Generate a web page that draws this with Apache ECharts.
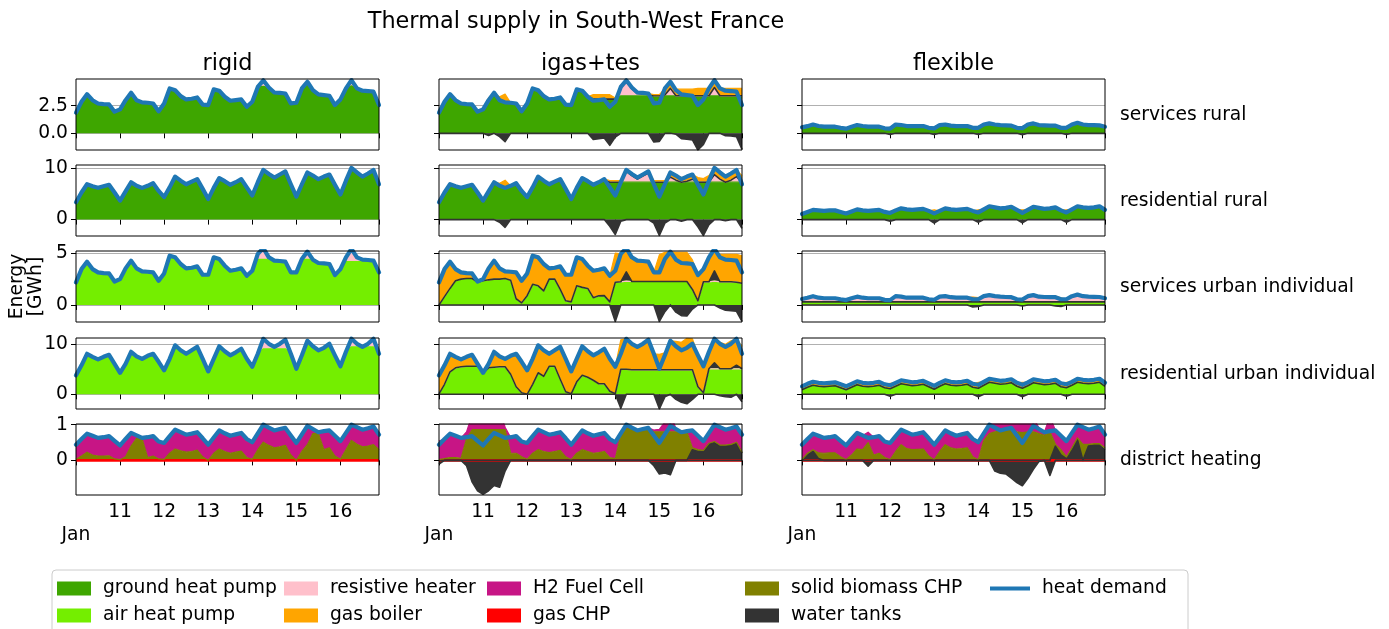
<!DOCTYPE html>
<html><head><meta charset="utf-8">
<script src="https://cdn.jsdelivr.net/npm/echarts@6/dist/echarts.min.js"></script>
<style>html,body{margin:0;padding:0;background:#fff}#c{width:1389px;height:629px}</style>
</head><body><div id="c"></div>
<script>
// ---------- categories / ticks ----------
const times = [
'Jan 10 00:00','Jan 10 03:00','Jan 10 06:00','Jan 10 09:00','Jan 10 12:00','Jan 10 15:00','Jan 10 18:00','Jan 10 21:00',
'Jan 11 00:00','Jan 11 03:00','Jan 11 06:00','Jan 11 09:00','Jan 11 12:00','Jan 11 15:00','Jan 11 18:00','Jan 11 21:00',
'Jan 12 00:00','Jan 12 03:00','Jan 12 06:00','Jan 12 09:00','Jan 12 12:00','Jan 12 15:00','Jan 12 18:00','Jan 12 21:00',
'Jan 13 00:00','Jan 13 03:00','Jan 13 06:00','Jan 13 09:00','Jan 13 12:00','Jan 13 15:00','Jan 13 18:00','Jan 13 21:00',
'Jan 14 00:00','Jan 14 03:00','Jan 14 06:00','Jan 14 09:00','Jan 14 12:00','Jan 14 15:00','Jan 14 18:00','Jan 14 21:00',
'Jan 15 00:00','Jan 15 03:00','Jan 15 06:00','Jan 15 09:00','Jan 15 12:00','Jan 15 15:00','Jan 15 18:00','Jan 15 21:00',
'Jan 16 00:00','Jan 16 03:00','Jan 16 06:00','Jan 16 09:00','Jan 16 12:00','Jan 16 15:00','Jan 16 18:00','Jan 16 21:00'];
const dayLabels = ['', '11', '12', '13', '14', '15', '16'];
const monthLabel = 'Jan';
const scenarios = ['rigid', 'igas+tes', 'flexible'];
const regions = ['services rural', 'residential rural', 'services urban individual', 'residential urban individual', 'district heating'];
const rowTicks = [[0, 2.5], [0, 10], [0, 5], [0, 10], [0, 1]];
const rowTickLabels = [['0.0', '2.5'], ['0', '10'], ['0', '5'], ['0', '10'], ['0', '1']];

const zero56 = [
0,0,0,0,0,0,0,0, 0,0,0,0,0,0,0,0, 0,0,0,0,0,0,0,0, 0,0,0,0,0,0,0,0,
0,0,0,0,0,0,0,0, 0,0,0,0,0,0,0,0, 0,0,0,0,0,0,0,0];

// ---------- heat demand ----------
const demSR = [
1.87,2.86,3.55,3.00,2.70,2.65,2.62,1.96, 2.17,3.00,3.67,3.00,2.80,2.77,2.70,2.00,
2.70,4.07,3.90,3.37,3.07,3.13,3.25,2.60, 2.56,3.98,3.86,3.31,2.95,3.01,3.07,2.41,
2.86,4.20,4.80,4.15,3.70,3.67,3.61,2.71, 2.77,4.07,4.67,3.92,3.52,3.46,3.40,2.56,
3.07,4.07,4.82,4.07,3.86,3.83,3.77,2.56];
const demRR = [
3.4,5.3,6.9,6.5,6.2,6.5,6.8,5.3, 3.7,5.5,7.3,6.6,6.2,6.6,7.1,5.6,
4.4,6.3,8.4,7.6,6.9,7.4,7.9,6.0, 4.0,6.2,8.1,7.5,6.8,7.3,7.9,6.3,
4.7,7.3,9.7,8.9,8.2,8.8,9.4,6.9, 4.5,6.9,9.2,8.6,7.9,8.4,8.8,6.8,
4.9,7.6,10.1,9.2,8.4,9.0,9.7,6.9];
const demSU = [
2.18,3.47,4.19,3.47,3.15,3.08,3.05,2.27, 2.50,3.54,4.29,3.54,3.25,3.21,3.15,2.34,
3.05,4.77,4.61,3.96,3.54,3.60,3.73,2.92, 2.92,4.61,4.45,3.80,3.31,3.41,3.54,2.82,
3.31,4.94,5.49,4.61,4.29,4.25,4.19,3.15, 3.15,4.45,5.16,4.38,4.06,4.03,3.96,2.89,
3.47,4.61,5.42,4.61,4.38,4.35,4.29,3.15];
const demRU = [
3.8,5.8,8.1,7.5,7.0,7.5,7.9,6.1, 4.3,6.1,8.5,7.6,7.1,7.7,8.1,6.5,
4.8,7.1,9.8,8.8,8.1,8.8,9.5,7.1, 4.6,7.1,9.6,8.6,7.8,8.4,9.1,7.1,
5.5,8.1,11.1,10.1,9.5,10.1,10.9,8.1, 5.1,7.8,10.7,9.6,8.8,9.3,10.1,7.8,
5.6,8.5,11.1,10.1,9.5,10.1,11.1,8.1];
const demDH = [
0.44,0.60,0.75,0.69,0.63,0.65,0.68,0.55, 0.42,0.60,0.77,0.70,0.63,0.65,0.68,0.53,
0.49,0.68,0.86,0.79,0.72,0.75,0.79,0.62, 0.44,0.64,0.84,0.76,0.69,0.73,0.77,0.60,
0.51,0.76,1.00,0.92,0.84,0.88,0.91,0.70, 0.49,0.73,0.97,0.88,0.79,0.82,0.84,0.69,
0.54,0.77,1.00,0.93,0.86,0.90,0.95,0.72];
const demSRflex = [
0.54,0.65,0.80,0.66,0.60,0.60,0.60,0.50, 0.42,0.60,0.75,0.66,0.60,0.60,0.60,0.45,
0.42,0.80,0.75,0.66,0.66,0.66,0.66,0.50, 0.45,0.75,0.80,0.70,0.66,0.66,0.66,0.50,
0.50,0.80,0.90,0.80,0.75,0.72,0.70,0.50, 0.47,0.80,0.90,0.75,0.72,0.70,0.70,0.50,
0.50,0.80,0.95,0.80,0.75,0.74,0.72,0.60];
const demRRflex = [
1.1,1.5,1.9,1.8,1.7,1.8,1.8,1.5, 1.2,1.6,2.0,1.8,1.7,1.8,1.9,1.5,
1.3,1.8,2.2,2.0,1.9,2.0,2.1,1.7, 1.2,1.7,2.2,2.0,1.9,2.0,2.1,1.7,
1.4,2.0,2.6,2.4,2.2,2.3,2.5,1.9, 1.3,1.9,2.5,2.3,2.1,2.2,2.4,1.8,
1.4,2.0,2.6,2.4,2.3,2.4,2.6,1.9];
const demSUflex = [
0.58,0.70,0.85,0.70,0.65,0.65,0.65,0.55, 0.47,0.65,0.80,0.70,0.65,0.65,0.65,0.50,
0.47,0.85,0.80,0.70,0.70,0.70,0.70,0.55, 0.50,0.80,0.85,0.75,0.70,0.70,0.70,0.55,
0.55,0.85,0.95,0.85,0.80,0.77,0.75,0.55, 0.52,0.85,0.95,0.80,0.77,0.75,0.75,0.55,
0.55,0.85,1.00,0.85,0.80,0.79,0.77,0.65];
const demRUflex = [
1.6,2.1,2.5,2.3,2.2,2.3,2.4,2.0, 1.6,2.1,2.6,2.3,2.2,2.3,2.5,2.0,
1.8,2.3,2.8,2.6,2.4,2.5,2.7,2.2, 1.7,2.3,2.8,2.5,2.4,2.5,2.7,2.1,
1.9,2.5,3.1,2.9,2.7,2.8,3.0,2.3, 1.9,2.4,3.0,2.8,2.6,2.7,2.9,2.2,
2.0,2.5,3.1,2.9,2.8,2.9,3.1,2.3];

// ---------- services rural ----------
const sr_rigid_ghp = [
1.87,2.86,3.55,3.00,2.70,2.65,2.62,1.96, 2.17,3.00,3.67,3.00,2.80,2.77,2.70,2.00,
2.70,4.07,3.90,3.37,3.07,3.13,3.25,2.60, 2.56,3.98,3.86,3.31,2.95,3.01,3.07,2.41,
2.86,4.20,4.25,4.15,3.70,3.67,3.61,2.71, 2.77,4.07,4.67,3.92,3.52,3.46,3.40,2.56,
3.07,4.07,4.30,4.07,3.86,3.83,3.77,2.56];
const sr_rigid_res = [
0,0,0,0,0,0,0,0, 0,0,0,0,0,0,0,0, 0,0,0,0,0,0,0,0, 0,0,0,0,0,0,0,0,
0,0,0.55,0,0,0,0,0, 0,0,0,0,0,0,0,0, 0,0,0.52,0,0,0,0,0];
const sr_igas_ghp = [
1.87,2.86,3.55,3.00,2.70,2.65,2.62,1.96, 2.17,3.00,3.67,3.00,2.80,2.77,2.70,2.00,
2.70,4.07,3.90,3.37,3.07,3.13,3.25,2.60, 2.56,3.98,3.86,3.31,3.10,3.10,3.10,3.10,
3.10,3.40,3.40,3.40,3.40,3.40,3.40,3.40, 3.40,3.40,3.40,3.40,3.40,3.40,3.40,3.40,
3.40,3.40,3.40,3.40,3.40,3.40,3.40,3.40];
const sr_igas_res = [
0,0,0,0,0,0,0,0, 0,0,0,0,0,0,0,0, 0,0,0,0,0,0,0,0, 0,0,0,0,0,0,0,0,
0,0.70,1.30,0.65,0.20,0.17,0.11,0, 0,0.07,0.67,0,0,0,0,0, 0,0,0.75,0,0,0,0,0];
const sr_igas_gas = [
0,0,0,0,0,0,0,0, 0,0.2,0,0.3,0.75,0,0,0, 0,0,0,0,0,0,0,0, 0,0,0,0,0.4,0.4,0.4,0.4,
0.1,0.1,0.1,0.1,0.1,0.1,0.1,0.1, 0.1,0.6,0.6,0.6,0.6,0.6,0.6,0.67,
0.67,0.67,0.67,0.67,0.67,0.67,0.67,0.67];
const sr_igas_wtn = [
0,0,0,0,0,0,0,0, 0,-0.2,0,-0.3,-0.75,0,0,0, 0,0,0,0,0,0,0,0, 0,0,0,0,-0.55,-0.49,-0.43,-1.09,
-0.34,0,0,0,0,0,0,-0.79, -0.73,0,0,-0.08,-0.48,-0.54,-0.6,-1.51,
-1.0,0,0,0,-0.21,-0.24,-0.3,-1.45];
const sr_flex_ghp = [
0.54,0.65,0.80,0.66,0.60,0.60,0.60,0.50, 0.42,0.60,0.75,0.66,0.60,0.60,0.60,0.45,
0.52,0.80,0.75,0.66,0.66,0.66,0.66,0.50, 0.55,0.75,0.80,0.70,0.66,0.66,0.66,0.50,
0.60,0.80,0.90,0.80,0.75,0.72,0.70,0.50, 0.59,0.80,0.90,0.75,0.72,0.70,0.70,0.50,
0.60,0.80,0.95,0.80,0.75,0.74,0.72,0.60];
const sr_flex_wtn = [
0,0,0,0,0,0,0,0, 0,0,0,0,0,0,0,0, -0.1,0,0,0,0,0,0,0, -0.1,0,0,0,0,0,0,0,
-0.1,0,0,0,0,0,0,0, -0.12,0,0,0,0,0,0,0, -0.1,0,0,0,0,0,0,0];

// ---------- residential rural ----------
const rr_rigid_ghp = [
3.4,5.3,6.9,6.5,6.2,6.5,6.8,5.3, 3.7,5.5,7.3,6.6,6.2,6.6,7.1,5.6,
4.4,6.3,8.4,7.6,6.9,7.4,7.9,6.0, 4.0,6.2,8.1,7.5,6.8,7.3,7.9,6.3,
4.7,7.3,9.7,8.9,8.2,8.8,9.4,6.9, 4.5,6.9,9.2,8.6,7.9,8.4,8.8,6.8,
4.9,7.6,9.8,9.0,8.4,9.0,9.7,6.9];
const rr_rigid_res = [
0,0,0,0,0,0,0,0, 0,0,0,0,0,0,0,0, 0,0,0,0,0,0,0,0, 0,0,0,0,0,0,0,0,
0,0,0,0,0,0,0,0, 0,0,0,0,0,0,0,0, 0,0,0.3,0.2,0,0,0,0];
const rr_igas_ghp = [
3.4,5.3,6.9,6.5,6.2,6.5,6.8,5.3, 3.7,5.5,7.3,6.6,6.2,6.6,7.1,5.6,
4.4,6.3,8.4,7.6,6.9,7.4,7.9,6.0, 4.0,6.2,8.1,7.5,6.8,7.3,7.9,7.3,
7.3,7.3,7.3,7.3,7.3,7.3,7.3,7.3, 7.3,7.3,7.3,7.3,7.3,7.3,7.3,7.3,
7.3,7.3,7.3,7.3,7.3,7.3,7.3,7.3];
const rr_igas_res = [
0,0,0,0,0,0,0,0, 0,0,0,0,0,0,0,0, 0,0,0,0,0,0,0,0, 0,0,0,0,0,0,0,0,
0,0,2.1,1.3,0.6,1.2,1.8,0, 0,0,1.0,0.4,0,0.2,0.6,0, 0,0,1.5,0.6,0,0.4,1.1,0];
const rr_igas_gas = [
0,0,0,0,0,0,0,0, 0,0,0,0.5,1.5,0,0,0, 0,0,0,0,0,0,0,0, 0,0,0,0,0,0,0,0.3,
0.3,0.3,0.3,0.3,0.3,0.3,0.3,0.3, 0.3,0.3,0.9,0.9,0.9,0.9,0.9,0.9,
0.7,1.3,1.3,1.3,1.3,1.3,1.3,1.3];
const rr_igas_wtn = [
0,0,0,0,0,0,0,0, 0,0,0,-0.5,-1.5,0,0,0, 0,0,0,0,0,0,0,0, 0,0,0,0,0,0,0,-1.3,
-2.9,-0.3,0,0,0,0,0,-0.7, -3.1,-0.7,0,0,-0.3,0,0,-1.4,
-3.1,-1.0,0,0,-0.2,0,0,-1.7];
const rr_flex_ghp = [
1.1,1.5,1.9,1.8,1.7,1.8,1.8,1.5, 1.2,1.6,2.0,1.8,1.7,1.8,1.9,1.5,
1.4,1.8,2.2,2.0,1.9,2.0,2.1,1.7, 1.4,1.7,2.2,2.0,1.9,2.0,2.1,1.7,
1.55,2.0,2.6,2.4,2.2,2.3,2.5,1.9, 1.5,1.9,2.5,2.3,2.1,2.2,2.4,1.8,
1.55,2.0,2.6,2.4,2.3,2.4,2.6,1.9];
const rr_flex_gas = [
0,0,0,0,0,0,0,0, 0,0,0,0,0,0,0,0, 0.2,0,0,0,0,0,0,0, 0.5,0,0,0,0,0,0,0,
0.35,0,0,0,0,0,0,0, 0.4,0,0,0,0,0,0,0, 0.35,0,0,0,0,0,0,0];
const rr_flex_wtn = [
0,0,0,0,0,0,0,0, 0,0,0,0,0,0,0,0, -0.3,0,0,0,0,0,0,0, -0.7,0,0,0,0,0,0,0,
-0.5,0,0,0,0,0,0,0, -0.6,0,0,0,0,0,0,0, -0.5,0,0,0,0,0,0,0];

// ---------- services urban individual ----------
const su_rigid_ahp = [
2.18,3.47,4.19,3.47,3.15,3.08,3.05,2.27, 2.50,3.54,4.29,3.54,3.25,3.21,3.15,2.34,
3.05,4.62,4.61,3.96,3.54,3.60,3.73,2.92, 2.92,4.61,4.45,3.80,3.31,3.41,3.54,2.82,
3.31,4.40,4.40,4.40,4.29,4.25,4.19,3.15, 3.15,4.40,4.40,4.38,4.06,4.03,3.96,2.89,
3.47,4.20,4.20,4.20,4.20,4.20,4.20,3.15];
const su_rigid_res = [
0,0,0,0,0,0,0,0, 0,0,0,0,0,0,0,0, 0,0.15,0,0,0,0,0,0, 0,0,0,0,0,0,0,0,
0,0.54,1.09,0.21,0,0,0,0, 0,0.05,0.76,0,0,0,0,0, 0,0.41,1.22,0.41,0.18,0.15,0.09,0];
const su_igas_ahp = [
0,0.8,1.6,2.34,2.5,2.56,2.56,2.2, 2.34,2.43,2.5,2.5,2.56,2.4,0.6,0.2,
0.9,2.0,1.85,1.36,2.5,2.5,1.5,0.4, 0.3,1.85,1.7,1.6,0.7,0.88,0.9,0.3,
2.2,2.24,2.3,2.27,2.27,2.27,2.27,2.27, 2.27,2.27,2.27,2.27,2.27,2.27,1.5,0.4,
2.24,2.24,2.3,2.24,2.24,2.24,2.2,2.1];
const su_igas_wtp = [
0,0,0,0,0,0,0,0, 0,0,0,0,0,0,0,0, 0,0,0,0,0,0,0,0, 0,0,0,0,0,0,0,0,
0,0,0.9,0,0,0,0,0, 0,0,0,0,0,0,0,0, 0,0,1.0,0,0,0,0,0];
const su_igas_gas = [
2.18,2.67,2.59,1.13,0.65,0.52,0.49,0.07, 0.16,1.11,1.79,1.04,0.69,0.81,2.55,2.14,
2.15,2.77,2.76,2.6,1.04,1.1,2.23,2.52, 2.62,2.76,2.75,2.2,2.61,2.53,2.64,2.52,
2.81,2.7,2.29,2.34,2.02,1.98,1.92,0.88, 2.58,2.83,2.89,2.81,2.83,2.83,2.86,2.49,
1.23,2.37,2.12,2.66,2.66,2.66,2.7,2.65];
const su_igas_wtn = [
0,0,0,0,0,0,0,0, 0,0,0,0,0,0,0,0, 0,0,0,0,0,0,0,0, 0,0,0,0,0,0,0,0,
-1.6,0,0,0,0,0,0,0, -1.6,-0.65,0,-0.7,-1.04,-1.07,-0.4,0,
0,0,0,-0.29,-0.52,-0.55,-0.61,-1.6];
const su_flex_ahp = [
0.3,0.3,0.3,0.3,0.3,0.3,0.3,0.3, 0.3,0.3,0.3,0.3,0.3,0.3,0.3,0.3,
0.3,0.3,0.3,0.3,0.3,0.3,0.3,0.3, 0.3,0.3,0.3,0.3,0.3,0.3,0.3,0.3,
0.3,0.3,0.3,0.3,0.3,0.3,0.3,0.3, 0.3,0.3,0.3,0.3,0.3,0.3,0.3,0.3,
0.3,0.3,0.3,0.3,0.3,0.3,0.3,0.3];
const su_flex_res = [
0.28,0.40,0.55,0.40,0.35,0.35,0.35,0.25, 0.17,0.35,0.50,0.40,0.35,0.35,0.35,0.20,
0.17,0.55,0.50,0.40,0.40,0.40,0.40,0.25, 0.20,0.50,0.55,0.45,0.40,0.40,0.40,0.45,
0.30,0.55,0.65,0.55,0.50,0.47,0.45,0.25, 0.24,0.55,0.65,0.50,0.47,0.45,0.55,0.30,
0.25,0.55,0.70,0.55,0.50,0.49,0.47,0.35];
const su_flex_gas = [
0,0,0,0,0,0,0,0, 0,0,0,0,0,0,0,0, 0,0,0,0,0,0,0,0, 0,0,0,0,0,0,0,0,
0.1,0,0,0,0,0,0,0, 0.08,0,0,0,0,0,0,0.1, 0,0,0,0,0,0,0,0];
const su_flex_wtn = [
0,0,0,0,0,0,0,0, 0,0,0,0,0,0,0,0, 0,0,0,0,0,0,0,0, 0,0,0,0,0,0,0,-0.2,
-0.15,0,0,0,0,0,0,0, -0.1,0,0,0,0,0,-0.1,-0.15, 0,0,0,0,0,0,0,0];

// ---------- residential urban individual ----------
const ru_rigid_ahp = [
3.8,5.8,8.1,7.5,7.0,7.5,7.9,6.1, 4.3,6.1,8.5,7.6,7.1,7.7,8.1,6.5,
4.8,7.1,9.8,8.8,8.1,8.8,9.5,7.1, 4.6,7.1,9.6,8.6,7.8,8.4,9.1,7.1,
5.5,8.1,9.1,9.1,9.1,9.1,9.1,8.1, 5.1,7.8,10.7,9.6,8.8,9.3,10.1,7.8,
5.6,8.5,9.5,9.5,9.5,9.5,9.5,8.1];
const ru_rigid_res = [
0,0,0,0,0,0,0,0, 0,0,0,0,0,0,0,0, 0,0,0,0,0,0,0,0, 0,0,0,0,0,0,0,0,
0,0,2.0,1.0,0.4,1.0,1.8,0, 0,0,0,0,0,0,0,0, 0,0,1.6,0.6,0,0.6,1.6,0];
const ru_igas_ahp = [
0.1,2.0,4.5,5.3,5.5,5.6,5.6,5.6, 4.3,5.3,5.4,5.5,5.5,4.0,1.5,0.3,
0.0,2.0,4.3,3.6,5.6,5.6,3.0,0.5, 0.1,2.5,3.8,3.4,2.8,2.1,2.1,0.6,
0.1,5.0,5.0,4.9,4.9,4.9,4.9,4.9, 4.9,4.9,4.9,4.9,4.9,4.9,4.9,1.5,
0.3,5.1,5.1,5.1,5.1,5.1,5.1,5.1];
const ru_igas_wtp = [
0,0,0,0,0,0,0,0, 0,0,0,0,0,0,0,0, 0,0,0,0,0,0,0,0, 0,0,0,0,0,0,0,0,
0,0,0,0,0,0,0,0, 0,0,0,0,0,0,0,0, 0,0,1.2,0,0,0,0.7,0];
const ru_igas_gas = [
3.7,3.8,3.6,2.2,1.5,1.9,2.3,0.5, 0.0,0.8,3.1,2.1,1.6,3.7,6.6,6.2,
4.8,5.1,5.5,5.2,2.5,3.2,6.5,6.6, 4.5,4.6,5.8,5.2,5.0,6.3,7.0,6.5,
5.4,5.9,6.1,5.2,4.6,5.2,6.0,3.2, 3.1,3.4,5.8,5.7,5.5,6.3,6.2,6.3,
5.3,3.4,4.8,5.3,4.9,5.6,5.3,4.5];
const ru_igas_wtn = [
0,0,0,0,0,0,0,0, 0,0,0,0,0,0,0,0, 0,0,0,0,0,0,0,0, 0,0,0,0,0,0,0,0,
0,-2.8,0,0,0,0,0,0, -2.9,-0.5,0,-1.0,-1.6,-1.9,-1.0,0,
0,0,0,-0.3,-0.5,-0.6,0,-1.5];
const ru_flex_ahp = [
0.9,1.4,1.8,1.6,1.5,1.6,1.7,1.3, 0.9,1.4,1.9,1.6,1.5,1.6,1.8,1.3,
1.1,1.6,2.1,1.9,1.7,1.8,2.0,1.5, 1.0,1.6,2.1,1.8,1.7,1.8,2.0,1.4,
1.2,1.8,2.4,2.2,2.0,2.1,2.3,1.6, 1.2,1.7,2.3,2.1,1.9,2.0,2.2,1.5,
1.3,1.8,2.4,2.2,2.1,2.2,2.4,1.6];
const ru_flex_gas = [
0.7,0.7,0.7,0.7,0.7,0.7,0.7,0.7, 0.7,0.7,0.7,0.7,0.7,0.7,0.7,0.7,
1.1,0.7,0.7,0.7,0.7,0.7,0.7,0.7, 0.7,0.7,0.7,0.7,0.7,0.7,0.7,0.7,
1.2,0.7,0.7,0.7,0.7,0.7,0.7,0.7, 1.2,0.7,0.7,0.7,0.7,0.7,0.7,0.7,
1.1,0.7,0.7,0.7,0.7,0.7,0.7,0.7];
const ru_flex_wtn = [
0,0,0,0,0,0,0,0, 0,0,0,0,0,0,0,0, -0.4,0,0,0,0,0,0,0, 0,0,0,0,0,0,0,0,
-0.5,0,0,0,0,0,0,0, -0.5,0,0,0,0,0,0,0, -0.4,0,0,0,0,0,0,0];

// ---------- district heating ----------
const dh_rigid_sol = [
0.03,0.12,0.23,0.15,0.12,0.12,0.13,0.04, 0.02,0.10,0.40,0.62,0.60,0.08,0.12,0.04,
0.03,0.20,0.32,0.27,0.23,0.25,0.29,0.10, 0.00,0.20,0.32,0.25,0.20,0.23,0.26,0.08,
0.03,0.30,0.51,0.42,0.35,0.38,0.42,0.15, 0.00,0.25,0.44,0.75,0.75,0.30,0.35,0.12,
0.03,0.30,0.56,0.45,0.38,0.40,0.44,0.30];
const dh_rigid_h2 = [
0.41,0.48,0.52,0.54,0.51,0.53,0.55,0.51, 0.40,0.50,0.37,0.08,0.03,0.57,0.56,0.49,
0.46,0.48,0.54,0.52,0.49,0.50,0.50,0.52, 0.44,0.44,0.52,0.51,0.49,0.50,0.51,0.52,
0.48,0.46,0.49,0.50,0.49,0.50,0.49,0.55, 0.49,0.48,0.53,0.13,0.04,0.52,0.49,0.57,
0.51,0.47,0.44,0.48,0.48,0.50,0.51,0.42];
const dh_igas_wtp = [
0,0,0,0,0,0,0,0, 0,0,0,0,0,0,0,0, 0,0,0,0,0,0,0,0, 0,0,0,0,0,0,0,0,
0,0,0,0,0,0,0,0, 0,0,0,0,0,0,0.3,0.25, 0.25,0.45,0.5,0.4,0.4,0.42,0.48,0.2];
const dh_igas_sol = [
0.02,0.05,0.08,0.08,0.06,0.60,0.86,0.86, 0.86,0.86,0.86,0.86,0.86,0.20,0.20,0.10,
0.03,0.20,0.30,0.25,0.22,0.25,0.28,0.10, 0.02,0.20,0.30,0.25,0.20,0.22,0.25,0.08,
0.05,0.70,0.90,0.88,0.84,0.85,0.88,0.80, 0.80,0.80,0.80,0.80,0.78,0.80,0.05,0.05,
0.03,0.03,0.03,0.03,0.03,0.03,0.03,0.03];
const dh_igas_h2 = [
0.52,0.55,0.67,0.61,0.57,0.20,0.42,0.54, 0.51,0.59,0.61,0.59,0.07,0.45,0.48,0.43,
0.46,0.48,0.56,0.54,0.50,0.50,0.51,0.52, 0.42,0.44,0.54,0.51,0.49,0.51,0.52,0.52,
0.46,0.06,0.10,0.04,0.00,0.03,0.03,0.05, 0.07,0.28,0.57,0.08,0.01,0.02,0.49,0.39,
0.26,0.29,0.47,0.50,0.43,0.45,0.44,0.49];
const dh_igas_wtn = [
-0.1,0,0,0,0,-0.15,-0.6,-0.85, -0.95,-0.85,-0.7,-0.75,-0.3,0,0,0,
0,0,0,0,0,0,0,0, 0,0,0,0,0,0,0,0,
0,0,0,0,0,0,0,-0.15, -0.38,-0.35,-0.4,0,0,0,0,0, 0,0,0,0,0,0,0,0];
const dh_flex_wtp = [
0,0.15,0.26,0.05,0,0,0,0, 0,0,0,0,0,0,0,0, 0,0,0,0,0,0,0,0, 0,0,0,0,0,0,0,0,
0,0,0,0,0,0,0,0, 0,0,0,0,0,0,0.4,0.15, 0.05,0.3,0.58,0,0.4,0.42,0.42,0.3];
const dh_flex_sol = [
0.02,0.05,0.04,0.16,0.20,0.21,0.21,0.10, 0.02,0.15,0.32,0.30,0.50,0.15,0.20,0.08,
0.02,0.25,0.44,0.33,0.30,0.31,0.32,0.12, 0.02,0.25,0.44,0.35,0.32,0.33,0.35,0.10,
0.02,0.55,0.75,0.80,0.82,0.85,0.86,0.80, 0.78,0.80,0.80,0.75,0.70,0.80,0.05,0.15,
0.05,0.05,0.05,0.45,0.05,0.05,0.05,0.05];
const dh_flex_h2 = [
0.42,0.40,0.45,0.48,0.43,0.44,0.47,0.45, 0.40,0.45,0.45,0.40,0.29,0.50,0.48,0.45,
0.47,0.43,0.42,0.46,0.42,0.44,0.47,0.50, 0.42,0.39,0.40,0.41,0.37,0.40,0.42,0.50,
0.49,0.21,0.25,0.42,0.38,0.41,0.55,0.52, 0.42,0.43,0.42,0.16,0.09,0.44,0.39,0.39,
0.44,0.42,0.37,0.48,0.41,0.43,0.48,0.37];
const dh_flex_wtn = [
0,0,0,0,0,0,0,0, 0,0,0,0,-0.16,0,0,0, 0,0,0,0,0,0,0,0, 0,0,0,0,0,0,0,0,
0,0,0,-0.3,-0.36,-0.38,-0.5,-0.62, -0.71,-0.5,-0.25,-0.03,0,-0.42,0,0,
0,0,0,0,0,0,0,0];

// ---------- styles ----------
const COLORS = {
  'ground heat pump': '#3ea600', 'air heat pump': '#74ee00', 'resistive heater': '#ffc0cb',
  'gas boiler': '#ffa500', 'H2 Fuel Cell': '#c71585', 'gas CHP': '#ff0000',
  'solid biomass CHP': '#808000', 'water tanks': '#333333', 'heat demand': '#1f77b4'
};
const LINEW = { 'water tanks': 1.6, 'gas CHP': 2.6 };
const FONT = 'DejaVu Sans';
const FS = 18.7, TFS = 22.4;
const colLeft = [76, 439, 802], colWidth = 303;
const rowTop = [79, 165, 251, 338, 424], rowHeight = 71;
const yRange = [[-1.51, 4.92], [-3.2, 10.66], [-1.65, 5.22], [-2.94, 11.26], [-0.97, 1.02]];

// panel table built from the arrays above
const panels = [
  [ {pos: [['ground heat pump', sr_rigid_ghp], ['resistive heater', sr_rigid_res]], neg: null, dem: demSR},
    {pos: [['ground heat pump', sr_igas_ghp], ['resistive heater', sr_igas_res], ['water tanks', zero56], ['gas boiler', sr_igas_gas]], neg: sr_igas_wtn, dem: demSR},
    {pos: [['ground heat pump', sr_flex_ghp], ['water tanks', zero56], ['gas boiler', zero56]], neg: sr_flex_wtn, dem: demSRflex} ],
  [ {pos: [['ground heat pump', rr_rigid_ghp], ['resistive heater', rr_rigid_res]], neg: null, dem: demRR},
    {pos: [['ground heat pump', rr_igas_ghp], ['resistive heater', rr_igas_res], ['water tanks', zero56], ['gas boiler', rr_igas_gas]], neg: rr_igas_wtn, dem: demRR},
    {pos: [['ground heat pump', rr_flex_ghp], ['water tanks', zero56], ['gas boiler', rr_flex_gas]], neg: rr_flex_wtn, dem: demRRflex} ],
  [ {pos: [['air heat pump', su_rigid_ahp], ['resistive heater', su_rigid_res]], neg: null, dem: demSU},
    {pos: [['air heat pump', su_igas_ahp], ['resistive heater', zero56], ['water tanks', su_igas_wtp], ['gas boiler', su_igas_gas]], neg: su_igas_wtn, dem: demSU},
    {pos: [['air heat pump', su_flex_ahp], ['water tanks', zero56], ['resistive heater', su_flex_res], ['gas boiler', su_flex_gas]], neg: su_flex_wtn, dem: demSUflex} ],
  [ {pos: [['air heat pump', ru_rigid_ahp], ['resistive heater', ru_rigid_res]], neg: null, dem: demRU},
    {pos: [['air heat pump', ru_igas_ahp], ['resistive heater', zero56], ['water tanks', ru_igas_wtp], ['gas boiler', ru_igas_gas]], neg: ru_igas_wtn, dem: demRU},
    {pos: [['air heat pump', ru_flex_ahp], ['water tanks', zero56], ['gas boiler', ru_flex_gas]], neg: ru_flex_wtn, dem: demRUflex} ],
  [ {pos: [['gas CHP', zero56], ['solid biomass CHP', dh_rigid_sol], ['H2 Fuel Cell', dh_rigid_h2]], neg: null, dem: demDH},
    {pos: [['gas CHP', zero56], ['water tanks', dh_igas_wtp], ['solid biomass CHP', dh_igas_sol], ['H2 Fuel Cell', dh_igas_h2]], neg: dh_igas_wtn, dem: demDH},
    {pos: [['gas CHP', zero56], ['water tanks', dh_flex_wtp], ['solid biomass CHP', dh_flex_sol], ['H2 Fuel Cell', dh_flex_h2]], neg: dh_flex_wtn, dem: demDH} ]
];

function areaSeries(tech, arr, g, stack) {
  const col = COLORS[tech];
  const s = {
    type: 'line', name: tech, xAxisIndex: g, yAxisIndex: g, data: arr,
    symbol: 'none', showSymbol: false, color: col,
    lineStyle: {color: col, width: LINEW[tech] || 1.2, join: 'round'},
    areaStyle: {color: col, opacity: 1},
    itemStyle: {color: col}, silent: true, emphasis: {disabled: true}, z: 2
  };
  if (stack) { s.stack = stack; s.stackStrategy = 'all'; }
  return s;
}

const grids = [], xAxes = [], yAxes = [], series = [];
panels.forEach((row, r) => row.forEach((p, c) => {
  const g = grids.length;
  grids.push({left: colLeft[c], top: rowTop[r], width: colWidth, height: rowHeight,
    show: true, backgroundColor: 'transparent', borderColor: '#000', borderWidth: 1, z: 10,
    containLabel: false, outerBoundsMode: 'none'});
  xAxes.push({
    gridIndex: g, type: 'category', data: times, boundaryGap: false,
    axisLine: {show: false},
    axisTick: {show: true, length: 5, inside: false, interval: (i) => i % 8 === 0 || i === times.length - 1,
      lineStyle: {color: '#000', width: 1}},
    axisLabel: {show: r === 4, interval: (i) => i % 8 === 0, margin: 6, color: '#000',
      fontFamily: FONT, fontSize: FS, lineHeight: 23,
      formatter: (v, i) => i === 0 ? '\n' + monthLabel : dayLabels[i / 8]},
    splitLine: {show: false}
  });
  yAxes.push({
    gridIndex: g, type: 'value', min: yRange[r][0], max: yRange[r][1],
    axisLine: {show: false},
    axisTick: {show: true, length: 5, inside: false, customValues: rowTicks[r], lineStyle: {color: '#000', width: 1}},
    axisLabel: {show: c === 0, customValues: rowTicks[r], margin: 8, color: '#000', fontFamily: FONT, fontSize: FS,
      formatter: (v) => { const k = rowTicks[r].indexOf(v); return k >= 0 ? rowTickLabels[r][k] : ''; }},
    splitLine: {show: true, lineStyle: {color: '#b0b0b0', width: 1}}
  });
  p.pos.forEach(([tech, arr]) => series.push(areaSeries(tech, arr, g, 'stk' + g)));
  if (p.neg) series.push(areaSeries('water tanks', p.neg, g, null));
  series.push({type: 'line', name: 'heat demand', xAxisIndex: g, yAxisIndex: g, data: p.dem,
    symbol: 'none', showSymbol: false, color: COLORS['heat demand'],
    lineStyle: {color: COLORS['heat demand'], width: 4.2, join: 'round', cap: 'round'},
    silent: true, emphasis: {disabled: true}, z: 3});
}));

const legendCols = [['ground heat pump', 'air heat pump'], ['resistive heater', 'gas boiler'],
  ['H2 Fuel Cell', 'gas CHP'], ['solid biomass CHP', 'water tanks'], ['heat demand']];
const legendLeft = [57, 284, 487, 745, 990];
const legends = legendCols.map((names, i) => ({
  type: 'plain', orient: 'vertical', left: legendLeft[i], top: 579, width: 220, height: 120,
  padding: 0, itemGap: 8,
  itemWidth: i === 4 ? 40 : 34, itemHeight: i === 4 ? 4 : 14, icon: 'rect', selectedMode: false,
  itemStyle: {borderWidth: 0},
  textStyle: {fontFamily: FONT, fontSize: FS, color: '#000', lineHeight: 14, padding: [0, 0, 0, 7]},
  data: names
}));

const txt = (x, y, text, size, align, extra) => Object.assign({
  type: 'text', x: x, y: y, silent: true,
  style: {text: text, fill: '#000', font: size + 'px "' + FONT + '"', align: align, verticalAlign: 'middle'}
}, extra || {});
const graphics = [
  {type: 'rect', shape: {x: 52, y: 570, width: 1136, height: 80, r: 4}, style: {fill: '#fff', stroke: '#cccccc', lineWidth: 1}, silent: true, z: -10},
  txt(576, 22, 'Thermal supply in South-West France', TFS, 'center'),
  txt(27, rowTop[2] + rowHeight / 2, 'Energy\n[GWh]', FS, 'center', {rotation: Math.PI / 2})
];
scenarios.forEach((s, c) => graphics.push(txt(colLeft[c] + colWidth / 2, 64, s, TFS, 'center')));
regions.forEach((s, r) => graphics.push(txt(1120, rowTop[r] + rowHeight / 2 + 1, s, FS, 'left')));

const chart = echarts.init(document.getElementById('c'), null, {renderer: 'canvas'});
chart.setOption({
  animation: false,
  backgroundColor: '#fff',
  textStyle: {fontFamily: FONT},
  grid: grids, xAxis: xAxes, yAxis: yAxes, series: series,
  legend: legends,
  graphic: {elements: graphics}
});
</script></body></html>
